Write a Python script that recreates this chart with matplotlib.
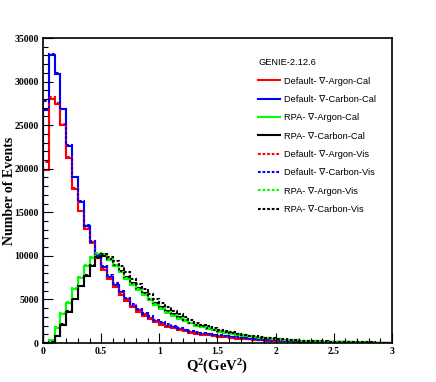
import matplotlib
matplotlib.use("Agg")
import matplotlib.pyplot as plt
import numpy as np

plt.rcParams["mathtext.fontset"] = "custom"
plt.rcParams["mathtext.rm"] = "Liberation Serif:bold"
plt.rcParams["mathtext.it"] = "Liberation Serif:bold"

# Q^2 binning: 60 bins of 0.05 GeV^2 from 0 to 3
bin_edges = np.linspace(0, 3, 61)

# event counts per bin (in thousands)
default_argon_cal = [19.8, 28.0, 27.4, 25.0, 21.2, 17.7, 15.1, 13.1, 11.5, 9.7,
                     8.4, 7.3, 6.4, 5.5, 4.8, 4.15, 3.6, 3.15, 2.75, 2.4,
                     2.1, 1.87, 1.67, 1.5, 1.34, 1.2, 1.08, 0.97, 0.88, 0.8,
                     0.72, 0.65, 0.58, 0.52, 0.46, 0.41, 0.37, 0.33, 0.29, 0.26,
                     0.23, 0.2, 0.18, 0.16, 0.14, 0.125, 0.11, 0.1, 0.09, 0.08,
                     0.07, 0.062, 0.055, 0.05, 0.045, 0.04, 0.036, 0.032, 0.029, 0.026]
default_carbon_cal = [26.7, 33.0, 30.9, 26.8, 22.6, 19.0, 16.2, 13.4, 11.6, 10.0,
                      8.7, 7.6, 6.7, 5.8, 5.0, 4.3, 3.8, 3.3, 2.9, 2.55,
                      2.25, 2.0, 1.8, 1.6, 1.45, 1.3, 1.17, 1.08, 1.0, 0.92,
                      0.85, 0.77, 0.69, 0.61, 0.54, 0.47, 0.41, 0.36, 0.32, 0.28,
                      0.25, 0.22, 0.2, 0.18, 0.16, 0.14, 0.125, 0.11, 0.1, 0.09,
                      0.08, 0.07, 0.062, 0.055, 0.05, 0.045, 0.04, 0.036, 0.032, 0.03]
rpa_argon_cal = [0.0, 0.3, 1.7, 3.3, 4.6, 6.2, 7.5, 8.8, 9.8, 10.2,
                 10.1, 9.5, 8.8, 8.1, 7.4, 6.7, 6.1, 5.5, 4.9, 4.4,
                 3.9, 3.5, 3.1, 2.8, 2.5, 2.25, 2.0, 1.8, 1.6, 1.45,
                 1.3, 1.17, 1.05, 0.94, 0.84, 0.75, 0.67, 0.6, 0.53, 0.47,
                 0.42, 0.37, 0.33, 0.29, 0.26, 0.23, 0.2, 0.18, 0.16, 0.14,
                 0.12, 0.11, 0.1, 0.09, 0.08, 0.07, 0.06, 0.055, 0.05, 0.045]
rpa_carbon_cal = [0.0, 0.0, 0.75, 2.1, 3.6, 5.0, 6.5, 7.7, 8.8, 9.8,
                  10.0, 9.6, 9.0, 8.3, 7.6, 6.9, 6.3, 5.7, 5.1, 4.6,
                  4.1, 3.7, 3.3, 2.95, 2.6, 2.35, 2.1, 1.9, 1.7, 1.55,
                  1.4, 1.25, 1.12, 1.0, 0.88, 0.78, 0.7, 0.62, 0.55, 0.49,
                  0.43, 0.38, 0.34, 0.3, 0.26, 0.23, 0.2, 0.18, 0.16, 0.14,
                  0.12, 0.11, 0.1, 0.09, 0.08, 0.07, 0.06, 0.055, 0.05, 0.045]
default_argon_vis = [20.8, 28.2, 27.5, 25.1, 21.3, 17.8, 15.2, 13.2, 11.6, 9.8,
                     8.5, 7.5, 6.5, 5.7, 5.0, 4.3, 3.75, 3.3, 2.9, 2.55,
                     2.25, 2.0, 1.78, 1.6, 1.43, 1.28, 1.15, 1.03, 0.93, 0.84,
                     0.76, 0.68, 0.61, 0.55, 0.49, 0.44, 0.39, 0.35, 0.31, 0.27,
                     0.24, 0.21, 0.19, 0.17, 0.15, 0.13, 0.115, 0.1, 0.09, 0.08,
                     0.072, 0.064, 0.057, 0.051, 0.046, 0.041, 0.037, 0.033, 0.03, 0.027]
default_carbon_vis = [27.8, 33.2, 31.0, 26.9, 22.7, 19.1, 16.3, 13.5, 11.7, 10.1,
                      8.8, 7.8, 6.9, 6.0, 5.2, 4.5, 3.95, 3.45, 3.05, 2.7,
                      2.4, 2.13, 1.9, 1.7, 1.53, 1.38, 1.24, 1.12, 1.06, 0.97,
                      0.89, 0.81, 0.73, 0.65, 0.58, 0.51, 0.45, 0.4, 0.35, 0.31,
                      0.27, 0.24, 0.21, 0.19, 0.17, 0.15, 0.13, 0.12, 0.1, 0.09,
                      0.08, 0.07, 0.065, 0.058, 0.052, 0.046, 0.041, 0.037, 0.033, 0.03]
rpa_argon_vis = [0.05, 0.35, 1.8, 3.4, 4.7, 6.3, 7.6, 8.9, 9.9, 10.3,
                 10.2, 9.6, 8.9, 8.2, 7.5, 6.8, 6.2, 5.6, 5.0, 4.5,
                 4.0, 3.6, 3.2, 2.9, 2.6, 2.33, 2.08, 1.87, 1.67, 1.5,
                 1.35, 1.21, 1.09, 0.98, 0.88, 0.79, 0.7, 0.63, 0.56, 0.5,
                 0.44, 0.39, 0.35, 0.31, 0.27, 0.24, 0.21, 0.19, 0.17, 0.15,
                 0.13, 0.12, 0.1, 0.09, 0.08, 0.07, 0.065, 0.058, 0.052, 0.047]
rpa_carbon_vis = [0.0, 0.1, 0.8, 2.2, 3.7, 5.1, 6.6, 7.8, 8.9, 9.9,
                  10.2, 9.9, 9.4, 8.8, 8.1, 7.4, 6.8, 6.2, 5.6, 5.1,
                  4.6, 4.1, 3.7, 3.3, 2.95, 2.65, 2.35, 2.1, 1.9, 1.7,
                  1.52, 1.36, 1.22, 1.09, 0.97, 0.86, 0.77, 0.68, 0.6, 0.53,
                  0.47, 0.42, 0.37, 0.33, 0.29, 0.26, 0.23, 0.2, 0.18, 0.16,
                  0.14, 0.12, 0.11, 0.1, 0.09, 0.08, 0.07, 0.06, 0.055, 0.05]

labels = ["Default- \u2207-Argon-Cal", "Default- \u2207-Carbon-Cal",
          "RPA- \u2207-Argon-Cal", "RPA- \u2207-Carbon-Cal",
          "Default- \u2207-Argon-Vis", "Default- \u2207-Carbon-Vis",
          "RPA- \u2207-Argon-Vis", "RPA- \u2207-Carbon-Vis"]
series = [default_argon_cal, default_carbon_cal, rpa_argon_cal, rpa_carbon_cal,
          default_argon_vis, default_carbon_vis, rpa_argon_vis, rpa_carbon_vis]
colors = ["#ff0000", "#0000ff", "#00ff00", "#000000"] * 2
styles = ["-"] * 4 + [(0, (1.3, 0.9))] * 4

fig = plt.figure(figsize=(4.36, 3.82), dpi=100)
ax = fig.add_axes([0.0986, 0.102, 0.8004, 0.7985])

for vals, lab, col, ls in zip(series, labels, colors, styles):
    ax.stairs(np.array(vals) * 1000, bin_edges, baseline=0, color=col,
              linestyle=ls, linewidth=1.5, label=lab)

ax.set_xlim(0, 3)
ax.set_ylim(0, 35000)
ax.set_xticks(np.arange(0, 3.01, 0.5))
ax.set_xticks(np.arange(0, 3.01, 0.1), minor=True)
ax.set_yticks(np.arange(0, 35001, 5000))
ax.set_yticks(np.arange(0, 35001, 1000), minor=True)
ax.set_xticklabels(["0", "0.5", "1", "1.5", "2", "2.5", "3"])
ax.tick_params(which="both", direction="in", top=False, right=False, width=0.8)
ax.tick_params(which="major", length=7, pad=3)
ax.tick_params(which="minor", length=3.5)
for lab in ax.get_xticklabels() + ax.get_yticklabels():
    lab.set_fontfamily("Liberation Serif")
    lab.set_fontweight("bold")
    lab.set_fontsize(7)
for sp in ax.spines.values():
    sp.set_linewidth(1.2)

ax.set_xlabel("Q$^{2}$(GeV$^{2}$)", fontfamily="Liberation Serif",
              fontweight="bold", fontsize=10.5, labelpad=1)
ax.set_ylabel("Number of Events", fontfamily="Liberation Serif",
              fontweight="bold", fontsize=10)
ax.yaxis.set_label_coords(-0.076, 0.5)

leg = ax.legend(loc="upper left", bbox_to_anchor=(258 / 436, 1 - 58 / 382),
                bbox_transform=fig.transFigure, frameon=False,
                title="GENIE-2.12.6", alignment="left",
                prop={"family": ["Liberation Sans", "DejaVu Sans"], "size": 6.7},
                title_fontproperties={"family": "Liberation Sans", "size": 6.7},
                handlelength=2.35, handletextpad=0.45, labelspacing=1.0,
                borderaxespad=0, borderpad=0)
leg._legend_box.sep = 7
for h in leg.get_lines():
    h.set_linewidth(1.5)

fig.savefig("out.png", dpi=100)
